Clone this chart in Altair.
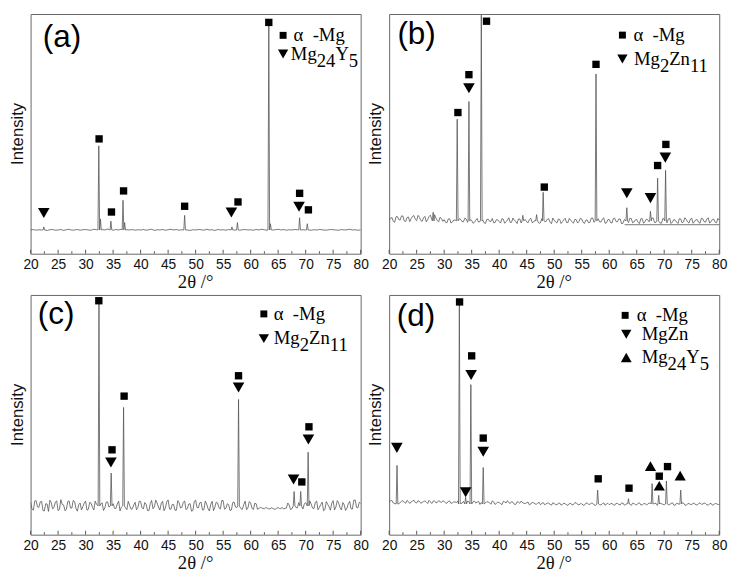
import altair as alt
import pandas as pd

# ---------------- data ----------------
X_MIN, X_MAX = 20, 80
GRID_STEP = 0.5

# panel (a)
a_base = 9.9
a_noise = [0.0, 0.2, -0.1, 0.1, 0.0, 0.3, -0.2, 0.1, 0.2, -0.1, 0.0, 0.2, -0.2, 0.1, 0.3, -0.1, 0.0, 0.2, -0.1, 0.1,
           0.2, 0.0, -0.1, 0.3, 0.1, -0.2, 0.2, 0.0, 0.4, 0.1, -0.1, 0.2, 0.0, 0.3, -0.2, 0.1, 0.0, 0.2, -0.1, 0.1,
           0.0, 0.2, -0.1, 0.1, 0.3, -0.2, 0.1, 0.0, 0.2, -0.1, 0.1, 0.3, 0.0, 0.2, -0.1, 0.1, 0.2, 0.0, -0.2, 0.1,
           0.0, 0.2, 0.1, -0.1, 0.3, 0.0, 0.1, -0.2, 0.2, 0.0, 0.1, -0.1, 0.2, 0.1, 0.0, 0.3, -0.1, 0.1, 0.2, 0.0,
           0.1, -0.1, 0.2, 0.0, 0.3, 0.1, -0.1, 0.2, 0.0, 0.1, 0.3, 0.0, 0.2, -0.1, 0.1, 0.0, 0.2, 0.1, -0.2, 0.1,
           0.0, 0.2, -0.1, 0.1, 0.0, 0.2, 0.1, -0.1, 0.0, 0.2, 0.1, 0.0, -0.1, 0.2, 0.0, 0.1, 0.3, 0.0, 0.1, -0.1,
           0.0]
a_noise_mid = []
a_peak_x = [22.4, 32.4, 32.7, 34.6, 36.8, 37.1, 48.0, 56.6, 57.6, 63.3, 63.6, 68.9, 70.3]
a_peak_top = [11.2, 45.0, 14.5, 13.6, 22.3, 13.0, 16.0, 11.2, 13.0, 96.4, 12.5, 15.0, 12.5]
a_mark_shape = ["triangle-down", "square", "square", "square", "square", "triangle-down",
                "square", "square", "square", "triangle-down", "square"]
a_mark_x = [22.4, 32.45, 34.7, 36.9, 48.0, 56.5, 57.7, 63.3, 68.9, 68.8, 70.5]
a_mark_y = [17.0, 47.9, 17.4, 26.2, 19.8, 17.2, 21.6, 96.5, 25.2, 19.6, 18.3]
a_leg_shape = ["square", "triangle-down"]
a_leg_x = [65.9, 65.9]
a_leg_y = [91.1, 83.3]
a_leg_text_x = [67.8, 67.3]
a_leg_text = [[("α\u00a0\u00a0-Mg", 0)], [("Mg", 0), ("24", 1), ("Y", 0), ("5", 1)]]
a_label = ("(a)", 22.2, 90.4)

# panel (b)
b_base = 13.7
b_noise = [0.2, 1.4, -0.6, 1.8, 0.4, 2.0, -0.3, 1.6, 0.9, 2.2, 0.1, 1.5, -0.2, 1.9, 0.6, 2.4, 0.3, 1.2, -0.4, 1.0,
           0.5, -0.8, 0.9, -0.5, 0.3, -1.0, 0.6, -0.4, 0.8, -0.9, 0.2, -0.6, 1.0, -0.3, 0.4, -1.1, 0.7, -0.2, -0.8, 0.5,
           -0.3, 0.9, -1.0, 0.4, -0.6, 1.2, -0.2, 0.8, -0.9, 1.5, -0.4, 0.6, -0.7, 0.3, 1.0, -0.8, 0.5, -0.3, 0.9, -1.2,
           0.3, -0.9, 0.6, -0.4, 1.1, -0.7, 0.2, -1.0, 0.5, -0.3, 0.8, -1.1, 0.4, -0.6, 1.2, -0.2, 0.9, -0.5, 1.3, -0.8,
           0.6, -0.9, 1.1, -0.4, 0.8, -1.0, 0.3, -0.7, 1.0, -0.5, 0.6, -1.1, 0.9, -0.3, 0.5, -0.9, 1.2, -0.6, 0.4, -1.0,
           0.7, -0.8, 1.0, -0.5, 0.3, -1.1, 0.8, -0.4, 0.6, -0.9, 1.1, -0.3, 0.5, -1.0, 0.9, -0.6, 1.3, -0.4, 0.7, -0.8,
           0.2]
b_noise_mid = [1.1, -0.2, 1.7, 0.5, 2.1, 0.0, 1.4, -0.3, 1.9, 0.7,
               2.3, 0.2, 1.3, -0.4, 1.8, 0.6, 2.6, 0.1, 1.5, -0.2,
               -0.6, 0.8, -0.9, 0.4, -0.7, 0.9, -0.3, 1.1, -0.6, 0.5,
               -1.0, 0.3, -0.5, 0.9, -0.8, 0.6, -0.2, 1.0, -0.7, 0.4,
               -0.9, 0.7, -0.4, 1.3, -0.6, 0.2, -1.1, 0.8, -0.3, 0.6,
               -0.8, 1.1, -0.5, 0.4, -1.0, 0.9, -0.2, 0.7, -0.6, 1.2,
               -0.4, 0.8, -1.1, 0.5, -0.7, 1.0, -0.3, 0.6, -0.9, 1.1,
               -0.5, 0.3, -0.8, 1.2, -0.6, 0.9, -0.4, 0.7, -1.0, 0.5,
               -0.7, 1.0, -0.3, 0.8, -1.2, 0.6, -0.5, 1.1, -0.8, 0.4,
               -0.6, 0.9, -1.0, 0.7, -0.4, 1.2, -0.7, 0.5, -0.9, 1.0,
               -0.3, 0.8, -1.1, 0.6, -0.5, 0.9, -0.8, 1.3, -0.4, 0.7,
               -1.0, 0.5, -0.6, 1.1, -0.3, 0.8, -0.9, 0.6, -0.5, 1.0]
b_peak_x = [28.0, 32.37, 34.5, 36.75, 44.3, 46.8, 48.0, 57.6, 63.2, 67.5, 68.8, 70.25]
b_peak_top = [17.3, 56.1, 63.5, 99.5, 16.0, 16.3, 25.6, 75.0, 19.2, 17.7, 31.5, 34.8]
b_mark_shape = ["square", "triangle-down", "square", "square", "square", "square",
                "triangle-down", "triangle-down", "square", "triangle-down", "square"]
b_mark_x = [32.5, 34.5, 34.5, 37.7, 48.2, 57.6, 63.2, 67.5, 68.8, 70.2, 70.3]
b_mark_y = [58.9, 69.0, 74.7, 97.0, 27.8, 79.0, 25.2, 23.2, 36.8, 40.1, 45.6]
b_leg_shape = ["square", "triangle-down"]
b_leg_x = [62.4, 62.4]
b_leg_y = [91.2, 81.2]
b_leg_text_x = [64.4, 64.5]
b_leg_text = [[("α\u00a0\u00a0-Mg", 0)], [("Mg", 0), ("2", 1), ("Zn", 0), ("11", 1)]]
b_label = ("(b)", 21.5, 91.4)
b_flat_x = [62.8, 80.0]
b_flat_y = [12.1, 12.1]

# panel (c)
c_base = 12.0
c_noise = [1.5, -1.8, 2.2, -0.6, 1.9, -2.1, 0.8, 2.4, -1.2, 1.6, -2.0, 2.6, 0.4, -1.5, 2.1, -0.9, 1.8, -2.2, 1.2, -0.3,
           2.0, -1.4, 1.1, -1.7, 0.6, -2.2, 1.3, -0.8, 1.7, -1.9, 0.9, -1.1, 2.0, -0.5, 1.4, -1.6, 0.3, -1.2, 1.5, -0.7,
           1.8, -1.3, 0.7, -2.0, 2.3, -0.4, 1.2, -1.7, 1.9, -0.9, 2.5, -1.4, 0.6, -1.8, 1.3, -0.6, 2.1, -1.1, 0.9, -1.9,
           2.4, -0.8, 1.5, -1.6, 0.8, -2.1, 1.9, -0.5, 1.2, -1.3, 2.2, -1.0, 0.5, -1.7, 1.6, -0.7, 1.1, -1.4, 2.0, -0.9,
           1.2, -1.5, 0.9, -1.1, -0.8, -1.2, -0.9, -1.3, -1.0, -1.4, -0.7, -1.1, -1.3, -0.9, 0.4, -1.2, 1.5, -0.8, 1.8, -1.3,
           1.4, -1.9, 0.8, -1.2, 2.0, -0.6, 1.6, -1.5, 0.7, -1.8, 2.2, -0.4, 1.3, -1.7, 0.5, -1.0, 1.9, -1.3, 2.5, -0.8,
           1.0]
c_noise_mid = [-1.2, 2.0, -0.4, 1.7, -1.9, 0.9, -2.3, 1.4, -0.7, 2.1,
               -1.5, 0.6, -2.0, 1.8, -0.9, 2.3, -1.1, 0.5, -1.7, 1.2,
               -1.8, 1.5, -0.6, 2.0, -1.3, 0.7, -1.9, 1.6, -0.5, 2.2,
               -1.0, 0.8, -2.1, 1.3, -0.8, 1.9, -1.4, 0.4, -1.6, 2.0,
               -0.7, 1.4, -1.9, 0.9, -1.2, 2.4, -0.5, 1.1, -2.0, 1.7,
               -1.3, 0.6, -1.8, 2.2, -0.9, 1.5, -1.6, 0.8, -2.2, 1.9,
               -0.6, 1.3, -1.7, 2.0, -1.1, 0.7, -2.0, 1.6, -0.8, 2.3,
               -1.4, 0.9, -1.9, 1.4, -0.5, 2.1, -1.2, 0.6, -1.6, 1.8,
               -1.0, 1.1, -1.4, -0.6, -1.1, -0.7, -1.2, -0.8, -1.3, -0.9,
               -1.1, -0.6, -1.0, 1.2, -1.5, 1.9, -0.7, 1.4, -1.8, 0.8,
               -1.3, 2.1, -0.9, 1.5, -1.6, 0.6, -2.0, 1.8, -0.4, 1.2,
               -1.7, 2.2, -0.8, 1.4, -1.9, 0.9, -1.2, 2.4, -0.6, 1.5]
c_peak_x = [32.43, 34.65, 36.9, 57.8, 67.9, 69.1, 70.45]
c_peak_top = [97.9, 25.7, 53.1, 56.4, 18.0, 18.0, 34.4]
c_mark_shape = ["square", "triangle-down", "square", "square", "triangle-down", "square",
                "triangle-down", "square", "triangle-down", "square"]
c_mark_x = [32.4, 34.6, 34.8, 37.0, 57.8, 57.8, 67.8, 69.3, 70.5, 70.6]
c_mark_y = [97.6, 30.1, 35.4, 57.8, 61.4, 66.3, 23.0, 22.0, 39.7, 45.0]
c_leg_shape = ["square", "triangle-down"]
c_leg_x = [62.4, 62.4]
c_leg_y = [92.1, 81.8]
c_leg_text_x = [64.2, 64.2]
c_leg_text = [[("α\u00a0\u00a0-Mg", 0)], [("Mg", 0), ("2", 1), ("Zn", 0), ("11", 1)]]
c_label = ("(c)", 21.3, 91.8)

# panel (d)
d_base = 12.8
d_noise = [0.8, 1.5, 0.2, 1.2, 0.6, 1.4, 0.3, 1.0, 0.9, 1.6, 0.4, 1.1, 0.7, 1.3, 0.2, 0.9, 1.2, 0.5, 1.4, 0.6,
           1.0, 0.3, 1.2, 0.5, 0.8, 1.3, 0.2, 1.1, 0.6, 0.9, 0.4, 1.2, 0.7, -0.2, 1.0, 0.4, 0.8, -0.1, 0.9, 0.3,
           0.6, -0.3, 0.9, 1.4, 0.2, 0.7, -0.2, 0.8, 1.2, 0.3, 0.5, -0.4, 0.7, 0.1, 0.4, -0.3, 0.6, 0.0, 0.3, -0.5,
           0.2, -0.4, 0.4, -0.2, 0.0, -0.6, 0.3, -0.3, 0.5, -0.4, 0.1, -0.5, 0.4, -0.2, 0.3, -0.6, 0.2, -0.4, 0.5, -0.1,
           -0.3, 0.3, -0.5, 0.2, -0.4, 0.4, -0.2, 0.0, -0.6, 0.3, -0.3, 0.5, -0.4, 0.2, -0.1, 0.4, -0.5, 0.3, -0.2, 0.1,
           -0.4, 0.3, -0.2, 0.5, -0.5, 0.1, -0.3, 0.4, -0.6, 0.2, -0.2, 0.3, -0.4, 0.5, -0.1, 0.2, -0.5, 0.3, -0.3, 0.1,
           -0.2]
d_noise_mid = [1.3, 0.4, 1.6, 0.1, 1.1, 0.7, 1.5, 0.2, 1.2, 0.6,
               1.4, 0.3, 1.0, 0.8, 1.5, 0.2, 1.3, 0.6, 1.0, 1.3,
               0.5, 1.1, 0.2, 0.9, 0.6, 1.4, 0.3, 0.8, 1.2, 0.1,
               0.9, 0.4, 1.1, 0.6, 0.2, 1.0, 0.5, 1.3, -0.2, 0.8,
               0.2, 1.1, 0.4, 0.6, 1.0, -0.1, 0.9, 0.3, 0.6, 0.2,
               0.8, 0.0, 0.5, -0.2, 0.7, 0.2, -0.3, 0.4, -0.1, 0.5,
               -0.2, 0.3, -0.5, 0.4, -0.3, 0.2, -0.4, 0.5, -0.2, 0.1,
               -0.5, 0.3, -0.1, 0.4, -0.4, 0.2, -0.3, 0.1, -0.5, 0.3,
               0.1, -0.4, 0.3, -0.2, 0.4, -0.5, 0.2, -0.1, 0.3, -0.3,
               0.2, -0.4, 0.1, -0.3, 0.4, -0.2, 0.2, -0.6, 0.3, -0.1,
               0.4, -0.3, 0.2, -0.5, 0.3, -0.1, 0.5, -0.4, 0.1, -0.2,
               0.3, -0.4, 0.2, -0.1, 0.4, -0.3, 0.1, -0.5, 0.2, -0.2]
d_peak_x = [21.43, 32.76, 33.9, 34.85, 37.1, 57.9, 63.5, 67.8, 69.0, 70.4, 73.0]
d_peak_top = [28.9, 96.3, 15.6, 62.6, 28.0, 18.6, 15.0, 21.3, 16.4, 22.4, 18.6]
d_mark_shape = ["triangle-down", "square", "triangle-down", "triangle-down", "square", "triangle-down",
                "square", "square", "square", "triangle-up", "triangle-up", "square", "square", "triangle-up"]
d_mark_x = [21.4, 32.8, 33.9, 34.9, 35.0, 37.1, 37.1, 58.0, 63.6, 67.5, 69.1, 69.1, 70.6, 72.9]
d_mark_y = [36.2, 97.1, 17.7, 66.6, 74.6, 34.6, 40.3, 23.3, 19.4, 28.6, 20.4, 24.4, 28.4, 24.6]
d_leg_shape = ["square", "triangle-down", "triangle-up"]
d_leg_x = [62.9, 63.1, 63.1]
d_leg_y = [91.5, 83.6, 73.9]
d_leg_text_x = [65.0, 65.9, 65.9]
d_leg_text = [[("α\u00a0\u00a0-Mg", 0)], [("MgZn", 0)], [("Mg", 0), ("24", 1), ("Y", 0), ("5", 1)]]
d_label = ("(d)", 21.4, 91.2)

X_TITLE = "2θ /°"
Y_TITLE = "Intensity"
MAJOR = list(range(20, 81, 5))
MINOR = [v + 2.5 for v in range(20, 80, 5)]

# ---------------- layout / style ----------------
W, H = 336, 244
PX_PER_DEG = W / (X_MAX - X_MIN)
HALF_W = 0.15
LEG_FS = 19
SERIF = "Liberation Serif"
SANS = "Liberation Sans"
CHAR_W = {"M": 0.889, "g": 0.5, "Y": 0.722, "Z": 0.611, "n": 0.5}
SIZES = {"square": 56, "triangle-down": 140, "triangle-up": 130}
LEG_SIZES = {"square": 50, "triangle-down": 110, "triangle-up": 120}


def build_trace(base, noise, mid, px, pt):
    pts = [(X_MIN + i * GRID_STEP, n) for i, n in enumerate(noise)]
    pts += [(X_MIN + GRID_STEP / 2 + i * GRID_STEP, n) for i, n in enumerate(mid)]
    rows = []
    for x, n in pts:
        if all(abs(x - p) > HALF_W + 0.07 for p in px):
            rows.append((x, base + n))
    for p, t in zip(px, pt):
        rows += [(p - HALF_W, base), (p, t), (p + HALF_W, base)]
    rows.sort()
    return pd.DataFrame(rows, columns=["x", "y"])


def text_width(s):
    return sum(CHAR_W.get(ch, 0.5) for ch in s) * LEG_FS


def build_legend_text(xs, ys, parts_list):
    rows = []
    for x0, y, parts in zip(xs, ys, parts_list):
        off = 0.0
        for txt, sub in parts:
            rows.append({"x": x0 + off / PX_PER_DEG, "y": y, "t": txt, "sub": sub})
            off += text_width(txt)
    return pd.DataFrame(rows)


def panel(base, noise, mid, px, pt, mshape, mx, my, lshape, lx, ly, ltx, ltext, label, flat=None):
    xs = alt.Scale(domain=[X_MIN, X_MAX], nice=False, zero=False)
    ys = alt.Scale(domain=[0, 100], nice=False, zero=False)
    trace = build_trace(base, noise, mid, px, pt)
    line = alt.Chart(trace).mark_line(color="#555555", strokeWidth=0.8, clip=True, strokeJoin="round").encode(
        x=alt.X("x:Q", scale=xs, axis=alt.Axis(
            orient="bottom", values=MAJOR, ticks=False, domain=False, grid=False,
            labelFont=SANS, labelFontSize=14, labelColor="#111", labelPadding=4,
            labelFlush=False, labelOverlap=False, title="")),
        y=alt.Y("y:Q", scale=ys, axis=None),
    )
    major = alt.Chart(pd.DataFrame({"v": MAJOR})).mark_rule(color="#555555", strokeWidth=1).encode(
        x=alt.X("v:Q", scale=xs, axis=None), y=alt.value(H), y2=alt.value(H - 4))
    minor = alt.Chart(pd.DataFrame({"v": MINOR})).mark_rule(color="#555555", strokeWidth=1).encode(
        x=alt.X("v:Q", scale=xs, axis=None), y=alt.value(H), y2=alt.value(H - 2.5))
    mdf = pd.DataFrame({"x": mx, "y": my, "shape": mshape})
    mdf["size"] = [SIZES[s] for s in mshape]
    pts = alt.Chart(mdf).mark_point(filled=True, color="black", opacity=1, strokeWidth=0).encode(
        x=alt.X("x:Q", scale=xs, axis=None),
        y=alt.Y("y:Q", scale=ys, axis=None),
        shape=alt.Shape("shape:N", scale=None),
        size=alt.Size("size:Q", scale=None),
    )
    ldf = pd.DataFrame({"x": lx, "y": ly, "shape": lshape})
    ldf["size"] = [LEG_SIZES[s] for s in lshape]
    lpts = alt.Chart(ldf).mark_point(filled=True, color="black", opacity=1, strokeWidth=0).encode(
        x=alt.X("x:Q", scale=xs, axis=None),
        y=alt.Y("y:Q", scale=ys, axis=None),
        shape=alt.Shape("shape:N", scale=None),
        size=alt.Size("size:Q", scale=None),
    )
    tdf = build_legend_text(ltx, ly, ltext)
    main_t = alt.Chart(tdf[tdf["sub"] == 0]).mark_text(
        align="left", baseline="middle", font=SERIF, fontSize=LEG_FS, color="black").encode(
        x=alt.X("x:Q", scale=xs, axis=None), y=alt.Y("y:Q", scale=ys, axis=None), text="t:N")
    sub_t = alt.Chart(tdf[tdf["sub"] == 1]).mark_text(
        align="left", baseline="middle", font=SERIF, fontSize=LEG_FS, color="black", dy=7).encode(
        x=alt.X("x:Q", scale=xs, axis=None), y=alt.Y("y:Q", scale=ys, axis=None), text="t:N")
    lab = alt.Chart(pd.DataFrame({"t": [label[0]], "x": [label[1]], "y": [label[2]]})).mark_text(
        align="left", baseline="middle", font=SANS, fontSize=32, color="black").encode(
        x=alt.X("x:Q", scale=xs, axis=None), y=alt.Y("y:Q", scale=ys, axis=None), text="t:N")
    one = pd.DataFrame({"k": [0]})
    ytitle = alt.Chart(one).mark_text(
        text=Y_TITLE, angle=270, align="center", baseline="middle",
        font=SANS, fontSize=17, color="#111").encode(x=alt.value(-13), y=alt.value(H / 2))
    xtitle = alt.Chart(one).mark_text(
        text=X_TITLE, align="center", baseline="middle",
        font=SERIF, fontSize=19, color="#111").encode(x=alt.value(W / 2), y=alt.value(H + 29))
    layers = [line, major, minor, pts, lpts, main_t, sub_t, lab, ytitle, xtitle]
    if flat is not None:
        fl = alt.Chart(pd.DataFrame({"x": flat[0], "y": flat[1]})).mark_line(
            color="#666666", strokeWidth=0.9).encode(
            x=alt.X("x:Q", scale=xs, axis=None), y=alt.Y("y:Q", scale=ys, axis=None))
        layers.append(fl)
    return alt.layer(*layers).resolve_axis(x="independent").properties(width=W, height=H)


pa = panel(a_base, a_noise, a_noise_mid, a_peak_x, a_peak_top, a_mark_shape, a_mark_x, a_mark_y,
           a_leg_shape, a_leg_x, a_leg_y, a_leg_text_x, a_leg_text, a_label)
pb = panel(b_base, b_noise, b_noise_mid, b_peak_x, b_peak_top, b_mark_shape, b_mark_x, b_mark_y,
           b_leg_shape, b_leg_x, b_leg_y, b_leg_text_x, b_leg_text, b_label, flat=(b_flat_x, b_flat_y))
pc = panel(c_base, c_noise, c_noise_mid, c_peak_x, c_peak_top, c_mark_shape, c_mark_x, c_mark_y,
           c_leg_shape, c_leg_x, c_leg_y, c_leg_text_x, c_leg_text, c_label)
pd_ = panel(d_base, d_noise, d_noise_mid, d_peak_x, d_peak_top, d_mark_shape, d_mark_x, d_mark_y,
            d_leg_shape, d_leg_x, d_leg_y, d_leg_text_x, d_leg_text, d_label)

chart = alt.concat(
    pa, pb, pc, pd_, columns=2,
    spacing=alt.RowColnumber(row=42, column=29), bounds="flush",
).properties(
    padding={"left": 0, "top": 0, "right": 4, "bottom": 0},
    background="white",
).configure_view(stroke="#666666", strokeWidth=1)

chart.save("out.html", embed_options={"renderer": "svg", "actions": False})
